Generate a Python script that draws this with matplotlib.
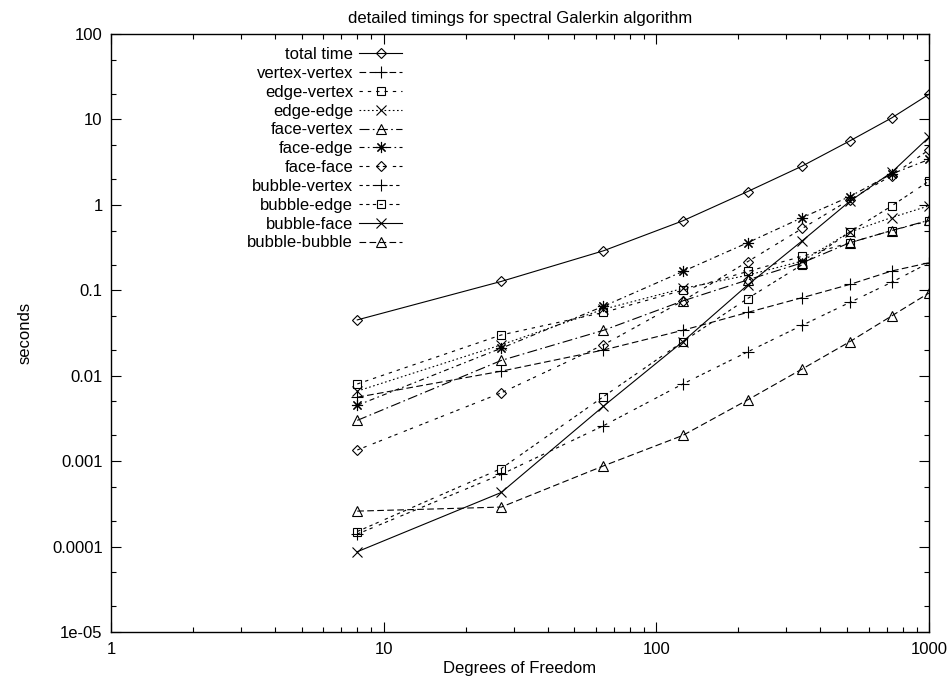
import numpy as np
import matplotlib
matplotlib.use("Agg")
import matplotlib.pyplot as plt
from matplotlib.ticker import FixedLocator, FixedFormatter, LogLocator, NullFormatter

# Degrees of freedom (p^3) and measured timings in seconds
dof = [8, 27, 64, 125, 216, 343, 512, 729, 1000]

total_time    = [0.045, 0.127, 0.29, 0.65, 1.43, 2.85, 5.6, 10.4, 19.7]
vertex_vertex = [0.0056, 0.0113, 0.020, 0.034, 0.055, 0.082, 0.117, 0.168, 0.21]
edge_vertex   = [0.0080, 0.030, 0.055, 0.10, 0.166, 0.25, 0.36, 0.50, 0.65]
edge_edge     = [0.0066, 0.023, 0.060, 0.105, 0.15, 0.22, 0.48, 0.71, 0.975]
face_vertex   = [0.0030, 0.0151, 0.034, 0.075, 0.132, 0.21, 0.36, 0.50, 0.66]
face_edge     = [0.0045, 0.021, 0.065, 0.166, 0.36, 0.71, 1.25, 2.3, 3.4]
face_face     = [0.00135, 0.0063, 0.023, 0.075, 0.216, 0.53, 1.15, 2.2, 4.4]
bubble_vertex = [0.00014, 0.0007, 0.0026, 0.008, 0.019, 0.039, 0.072, 0.124, 0.21]
bubble_edge   = [0.00015, 0.00082, 0.0057, 0.025, 0.080, 0.20, 0.48, 0.97, 1.9]
bubble_face   = [0.000087, 0.00043, 0.0044, 0.025, 0.115, 0.38, 1.1, 2.4, 6.2]
bubble_bubble = [0.00026, 0.00029, 0.00088, 0.0020, 0.0052, 0.012, 0.025, 0.050, 0.093]

labels = ["total time", "vertex-vertex", "edge-vertex", "edge-edge", "face-vertex",
          "face-edge", "face-face", "bubble-vertex", "bubble-edge", "bubble-face",
          "bubble-bubble"]
series = [total_time, vertex_vertex, edge_vertex, edge_edge, face_vertex,
          face_edge, face_face, bubble_vertex, bubble_edge, bubble_face, bubble_bubble]

x_ticks = [1, 10, 100, 1000]
x_tick_labels = ["1", "10", "100", "1000"]
y_ticks = [1e-5, 1e-4, 1e-3, 1e-2, 1e-1, 1, 10, 100]
y_tick_labels = ["1e-05", "0.0001", "0.001", "0.01", "0.1", "1", "10", "100"]

#gnuplot postscript style cycle: dash patterns repeat every 9, point types every 6
u = 1.2
dash_types = [
    None,
    (0, (4*u, 2*u)),
    (0, (2*u, 3*u)),
    (0, (1*u, 1.5*u)),
    (0, (6*u, 2*u, 1*u, 2*u)),
    (0, (3*u, 2*u, 1*u, 2*u)),
    (0, (2*u, 2*u, 2*u, 4*u)),
    (0, (2*u, 2*u, 2*u, 2*u, 2*u, 4*u)),
    (0, (2*u, 2*u, 2*u, 2*u, 2*u, 2*u, 2*u, 4*u)),
]
point_types = [("D", 5.5), ("+", 8), ("s", 6), ("x", 6.5), ("^", 6.5), ((8, 2, 0), 8)]

fs = 12
plt.rcParams['font.family'] = ['Liberation Sans', 'DejaVu Sans']
plt.rcParams['lines.scale_dashes'] = False

fig = plt.figure(figsize=(9.53, 6.84), dpi=100)
ax = fig.add_axes([111/953, 1 - 632/684, 818/953, 598/684])

for i in range(len(series)):
    marker, ms = point_types[i % 6]
    ls = dash_types[i % 9]
    line, = ax.plot(dof, series[i], color="black", linewidth=0.8, marker=marker,
                    markersize=ms, markerfacecolor="none", markeredgecolor="black",
                    markeredgewidth=0.8, label=labels[i])
    if ls is not None:
        line.set_linestyle(ls)

ax.set_xscale("log")
ax.set_yscale("log")
ax.set_xlim(1, 1000)
ax.set_ylim(1e-5, 100)

ax.xaxis.set_major_locator(FixedLocator(x_ticks))
ax.xaxis.set_major_formatter(FixedFormatter(x_tick_labels))
ax.xaxis.set_minor_locator(LogLocator(base=10, subs=np.arange(2, 10)))
ax.xaxis.set_minor_formatter(NullFormatter())
ax.yaxis.set_major_locator(FixedLocator(y_ticks))
ax.yaxis.set_major_formatter(FixedFormatter(y_tick_labels))
ax.yaxis.set_minor_locator(LogLocator(base=10, subs=[2, 5]))
ax.yaxis.set_minor_formatter(NullFormatter())

ax.tick_params(which="both", direction="in", top=True, right=True, labelsize=fs, width=0.8)
ax.tick_params(which="major", length=7)
ax.tick_params(axis="y", which="major", pad=6)
ax.tick_params(axis="x", which="major", pad=7)
ax.tick_params(which="minor", length=3.5)
for s in ax.spines.values():
    s.set_linewidth(1.0)

ax.set_title("detailed timings for spectral Galerkin algorithm", fontsize=fs, pad=8)
ax.set_xlabel("Degrees of Freedom", fontsize=fs, labelpad=3)
ax.set_ylabel("seconds", fontsize=fs, labelpad=14)

ax.legend(loc="upper right", bbox_to_anchor=(0.356, 0.978), frameon=False,
          markerfirst=False, numpoints=1, handlelength=2.6, handletextpad=0.35,
          labelspacing=0.23, borderpad=0, borderaxespad=0, fontsize=fs)

fig.savefig("out.png", dpi=100)
